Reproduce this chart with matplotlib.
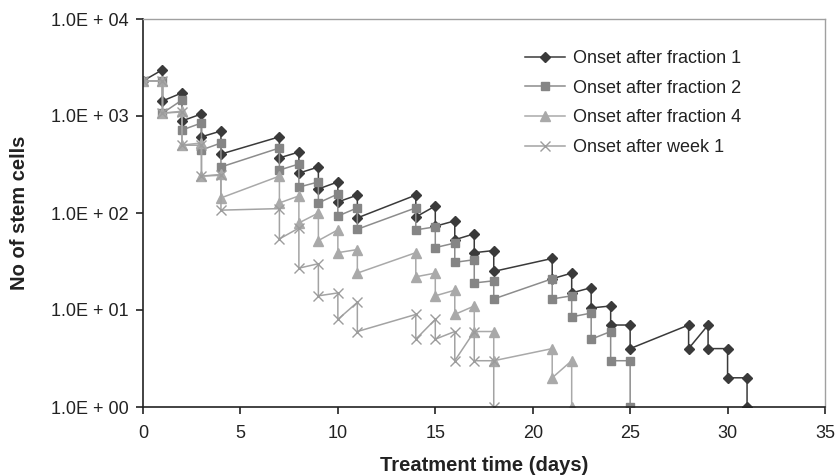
import matplotlib
matplotlib.use("Agg")
import matplotlib.pyplot as plt
import numpy as np
from matplotlib.ticker import FixedLocator, FuncFormatter, NullLocator, MultipleLocator

plt.rcParams['font.family'] = ['Liberation Sans', 'DejaVu Sans']

# each treatment day appears twice: count before and after the fraction
days_f1 = [0, 1, 1, 2, 2, 3, 3, 4, 4, 7, 7, 8, 8, 9, 9, 10, 10, 11, 11,
           14, 14, 15, 15, 16, 16, 17, 17, 18, 18, 21, 21, 22, 22, 23, 23,
           24, 24, 25, 25, 28, 28, 29, 29, 30, 30, 31, 31]
cells_f1 = [2300, 3000, 1430, 1730, 890, 1050, 610, 700, 405, 610, 370,
            425, 258, 298, 177, 209, 130, 153, 89, 153, 91, 118, 73, 83, 53,
            61, 39, 41, 25, 34, 21, 24, 15, 17, 10.5, 11, 7, 7, 4, 7, 4,
            7, 4, 4, 2, 2, 1]

days_f2 = [0, 1, 1, 2, 2, 3, 3, 4, 4, 7, 7, 8, 8, 9, 9, 10, 10, 11, 11,
           14, 14, 15, 15, 16, 16, 17, 17, 18, 18, 21, 21, 22, 22, 23, 23,
           24, 24, 25, 25]
cells_f2 = [2300, 2300, 1070, 1460, 717, 847, 446, 527, 298, 468, 277,
            320, 185, 209, 127, 157, 93, 113, 68, 113, 67, 72, 44, 49, 31,
            33, 19, 20, 13, 21, 13, 14, 8.5, 9.3, 5, 6, 3, 3, 1]

days_f4 = [0, 1, 1, 2, 2, 3, 3, 4, 4, 7, 7, 8, 8, 9, 9, 10, 10, 11, 11,
           14, 14, 15, 15, 16, 16, 17, 17, 18, 18, 21, 21, 22, 22]
cells_f4 = [2300, 2300, 1070, 1120, 502, 527, 240, 250, 143, 240, 127,
            150, 79, 100, 52, 67, 39, 42, 24, 39, 22, 24, 14, 16, 9, 11, 6,
            6, 3, 4, 2, 3, 1]

days_w1 = [0, 1, 1, 2, 2, 3, 3, 4, 4, 7, 7, 8, 8, 9, 9, 10, 10, 11, 11,
           14, 14, 15, 15, 16, 16, 17, 17, 18, 18]
cells_w1 = [2300, 2300, 1070, 1100, 500, 500, 240, 245, 107, 111, 54,
            70, 27, 30, 14, 15, 8, 12, 6, 9, 5, 8, 5, 6, 3, 6, 3, 3, 1]

series = [
    ("Onset after fraction 1", days_f1, cells_f1, "D", 5.5, "#3a3a3a", "#3a3a3a"),
    ("Onset after fraction 2", days_f2, cells_f2, "s", 5.5, "#858585", "#8c8c8c"),
    ("Onset after fraction 4", days_f4, cells_f4, "^", 6.5, "#a9a9a9", "#a9a9a9"),
    ("Onset after week 1", days_w1, cells_w1, "x", 6.5, "#9c9c9c", "#a3a3a3"),
]

fig = plt.figure(figsize=(8.36, 4.75), dpi=100)
ax = fig.add_axes([143 / 836, 1 - 407 / 475, 682 / 836, 388 / 475])

for label, d, c, mk, ms, mc, lc in series:
    ax.plot(d, c, color=lc, lw=1.1, marker=mk, ms=ms, mfc=mc, mec=mc,
            mew=1.0, label=label)

ax.set_yscale("log")
ax.set_ylim(1, 1e4)
ax.set_xlim(0, 35)
ax.yaxis.set_major_locator(FixedLocator([1, 10, 100, 1000, 10000]))
ax.yaxis.set_minor_locator(NullLocator())
ax.yaxis.set_major_formatter(
    FuncFormatter(lambda v, p: "1.0E + %02d" % int(round(np.log10(v)))))
ax.xaxis.set_major_locator(MultipleLocator(5))

for s in ("top", "right"):
    ax.spines[s].set_color("#a0a0a0")
    ax.spines[s].set_linewidth(1.0)
for s in ("left", "bottom"):
    ax.spines[s].set_color("#222222")
    ax.spines[s].set_linewidth(1.2)
ax.tick_params(axis="both", direction="out", length=5, width=1.2,
               color="#222222", labelsize=13, labelcolor="#222222")
ax.tick_params(axis="y", pad=5)
ax.tick_params(axis="x", pad=8)

ax.set_xlabel("Treatment time (days)", fontsize=14.5, fontweight="bold",
              color="#222222", labelpad=10)
ax.set_ylabel("No of stem cells", fontsize=14.5, fontweight="bold",
              color="#222222", labelpad=16)

ax.legend(loc="upper left", bbox_to_anchor=(525 / 836, 1 - 50 / 475),
          bbox_transform=fig.transFigure, frameon=False, fontsize=13,
          handlelength=2.2, handletextpad=0.45, labelspacing=0.7,
          borderaxespad=0, borderpad=0, labelcolor="#222222")

fig.savefig("out.png", dpi=100)
